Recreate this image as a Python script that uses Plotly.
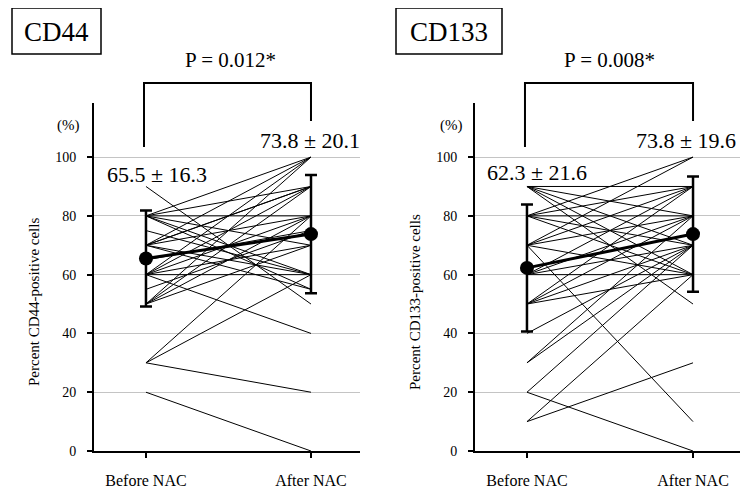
import plotly.graph_objects as go

# ---------------- data ----------------
categories = ["Before NAC", "After NAC"]
y_ticks = [0, 20, 40, 60, 80, 100]

cd44_before = [20, 30, 30, 30, 60, 90, 80, 70, 60, 50, 80, 70, 60, 50, 80, 80, 80, 70, 70, 70,
               60, 60, 60, 50, 50, 65, 55, 75, 80, 70]
cd44_after = [0, 20, 80, 60, 40, 50, 100, 100, 100, 100, 90, 90, 90, 90, 80, 70, 60, 80, 60, 55,
              80, 70, 60, 80, 70, 75, 75, 60, 55, 90]

cd133_before = [90, 90, 90, 90, 90, 80, 80, 80, 80, 80, 70, 70, 70, 70, 70, 60, 60, 60, 60,
                50, 50, 50, 50, 40, 30, 30, 20, 20, 10, 10]
cd133_after = [90, 80, 70, 60, 50, 100, 90, 80, 70, 60, 100, 90, 80, 60, 10, 90, 80, 70, 60,
               90, 80, 70, 60, 70, 80, 70, 70, 0, 30, 60]

cd44_mean = [65.5, 73.8]
cd44_sd = [16.3, 20.1]
cd133_mean = [62.3, 73.8]
cd133_sd = [21.6, 19.6]

panel_names = ["CD44", "CD133"]
p_values = ["P = 0.012*", "P = 0.008*"]
y_titles = ["Percent CD44-positive cells", "Percent CD133-positive cells"]

# ---------------- figure ----------------
# the page body has an 8px margin, so the figure is 740x480 and coordinates are offset
OFF = 8
W, H = 748 - OFF, 488 - OFF
FONT = "Liberation Serif"

def px(x):
    return (x - OFF) / W

def py(y):
    return 1 - (y - OFF) / H

fig = go.Figure()

panels = [
    dict(before=cd44_before, after=cd44_after, mean=cd44_mean, sd=cd44_sd,
         xa="x", ya="y", dom=[px(94), px(360)], xr=[-0.315, 1.297]),
    dict(before=cd133_before, after=cd133_after, mean=cd133_mean, sd=cd133_sd,
         xa="x2", ya="y2", dom=[px(475), px(745)], xr=[-0.313, 1.313]),
]

for p in panels:
    for b, a in zip(p["before"], p["after"]):
        fig.add_trace(go.Scatter(x=[0, 1], y=[b, a], mode="lines",
                                 line=dict(color="black", width=1),
                                 xaxis=p["xa"], yaxis=p["ya"], showlegend=False,
                                 hoverinfo="skip"))
    fig.add_trace(go.Scatter(x=[0, 1], y=p["mean"], mode="lines+markers",
                             line=dict(color="black", width=3),
                             marker=dict(color="black", size=14),
                             error_y=dict(type="data", array=p["sd"], visible=True,
                                          color="black", thickness=2.5, width=6),
                             xaxis=p["xa"], yaxis=p["ya"], showlegend=False))

ydom = [py(451), py(103)]
axis_common = dict(showline=True, linecolor="black", linewidth=2, mirror=False,
                   zeroline=False)

layout_axes = {}
for i, p in enumerate(panels):
    sfx = "" if i == 0 else "2"
    layout_axes["xaxis" + sfx] = dict(
        domain=p["dom"], range=p["xr"], tickvals=[0, 1], ticktext=categories,
        showgrid=False, ticks="outside", ticklen=5, tickwidth=1.5, tickcolor="black",
        ticklabelstandoff=9, anchor="y" + sfx, automargin=False,
        tickfont=dict(family=FONT, size=16, color="black"), **axis_common)
    layout_axes["yaxis" + sfx] = dict(
        domain=ydom, range=[0, 118.4], tickvals=y_ticks, showgrid=True,
        gridcolor="#c4c4c4", gridwidth=1, ticks="outside", ticklen=5, tickwidth=1.5,
        tickcolor="black", ticklabelstandoff=8, anchor="x" + sfx, automargin=False,
        tickfont=dict(family=FONT, size=14, color="black"), **axis_common)

fig.update_layout(width=W, height=H, margin=dict(l=0, r=0, t=0, b=0),
                  paper_bgcolor="white", plot_bgcolor="white", showlegend=False,
                  **layout_axes)

annotations = []
shapes = []

def label(x, y, text, size, angle=0):
    annotations.append(dict(x=px(x), y=py(y), xref="paper", yref="paper", text=text,
                            showarrow=False, xanchor="center", yanchor="middle",
                            textangle=angle,
                            font=dict(family=FONT, size=size, color="black")))

# panel name boxes
boxes = [(12, 8, 101, 54), (396, 8, 502, 54)]
for (x0, y0, x1, y1), name in zip(boxes, panel_names):
    shapes.append(dict(type="rect", xref="paper", yref="paper", x0=px(x0), x1=px(x1),
                       y0=py(y1), y1=py(y0), line=dict(color="black", width=1.5)))
    label((x0 + x1) / 2, (y0 + y1) / 2 + 1, name, 27)

# brackets and p-values
brackets = [("x", 230), ("x2", 609)]
for (xref, pc), ptxt in zip(brackets, p_values):
    shapes.append(dict(type="path", xref=xref, yref="paper",
                       path=f"M -0.012,{py(147)} L -0.012,{py(83)} L 1,{py(83)} L 1,{py(121)}",
                       line=dict(color="black", width=2)))
    label(pc, 60, ptxt, 21)

# mean +- sd labels
stat_labels = [
    (157, 174, f"{cd44_mean[0]} ± {cd44_sd[0]}"),
    (310, 140, f"{cd44_mean[1]} ± {cd44_sd[1]}"),
    (537, 172, f"{cd133_mean[0]} ± {cd133_sd[0]}"),
    (686, 140, f"{cd133_mean[1]} ± {cd133_sd[1]}"),
]
for x, y, t in stat_labels:
    label(x, y, t, 22)

# (%) labels
for x in (68, 451):
    label(x, 125, "(%)", 15)

# y titles
for x, t in zip((34, 415), y_titles):
    label(x, 302, t, 15, angle=-90)

fig.update_layout(annotations=annotations, shapes=shapes)

fig.write_html("out.html")
